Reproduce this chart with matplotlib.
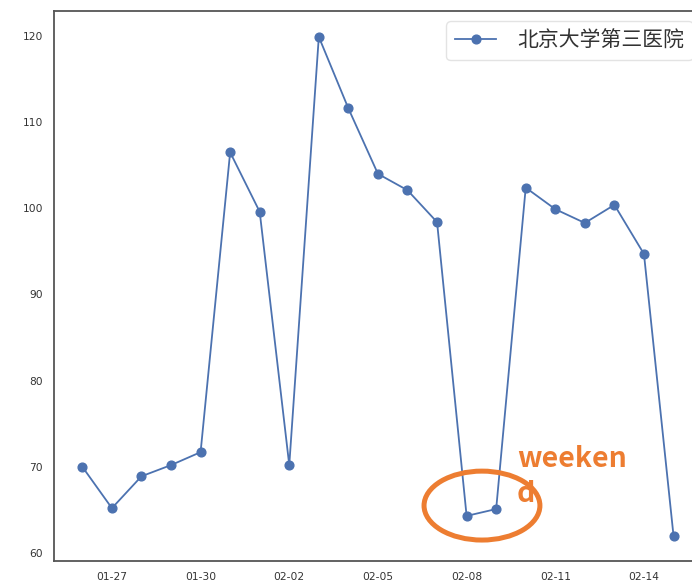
import matplotlib
matplotlib.use('Agg')
import matplotlib.pyplot as plt
from matplotlib.patches import Ellipse

plt.rcParams['font.family'] = ['DejaVu Sans']

# daily values, 2020-01-26 .. 2020-02-15
dates = ['01-26', '01-27', '01-28', '01-29', '01-30', '01-31', '02-01',
         '02-02', '02-03', '02-04', '02-05', '02-06', '02-07', '02-08',
         '02-09', '02-10', '02-11', '02-12', '02-13', '02-14', '02-15']
values = [70.0, 65.2, 68.9, 70.2, 71.7, 106.5, 99.6,
          70.2, 119.9, 111.6, 104.0, 102.1, 98.4, 64.3,
          65.1, 102.4, 99.9, 98.3, 100.4, 94.7, 62.0]
series_name = '北京大学第三医院'
tick_idx = [1, 4, 7, 10, 13, 16, 19]
yticks = [60, 70, 80, 90, 100, 110, 120]

fig = plt.figure(figsize=(6.92, 5.82), dpi=100)
ax = fig.add_axes([0.078, 0.0361, 0.938, 0.945])

x = list(range(len(dates)))
ax.plot(x, values, color='#4C72B0', lw=1.3, marker='o', markersize=6.3,
        label=series_name)

ax.set_xlim(-0.96, 21)
ax.set_ylim(59.07, 122.9)
ax.set_xticks(tick_idx)
ax.set_xticklabels([dates[i] for i in tick_idx])
ax.set_yticks(yticks)
ax.tick_params(length=0, labelsize=7.7, labelcolor='#333333', pad=8)

for s in ax.spines.values():
    s.set_color('#555555')
    s.set_linewidth(1.3)

leg = ax.legend(loc='upper right', prop={'family': 'Noto Sans CJK SC', 'size': 15},
                frameon=True, fancybox=True, edgecolor='#dddddd',
                borderpad=0.4, handletextpad=1.0, labelcolor='#333333')

# weekend annotation
orange = '#ED7D31'
ax.add_patch(Ellipse((13.52, 65.5), 3.92, 8.0, fill=False, ec=orange,
                     lw=3.6, zorder=5))
# baseline of the last line ("d")
ax.text(14.70, 65.92, 'weeken\nd', color=orange, fontsize=20.5,
        fontweight='bold', family=['Noto Sans CJK SC', 'DejaVu Sans'],
        ha='left', va='baseline', linespacing=1.3)

fig.savefig('out.png', dpi=100)
